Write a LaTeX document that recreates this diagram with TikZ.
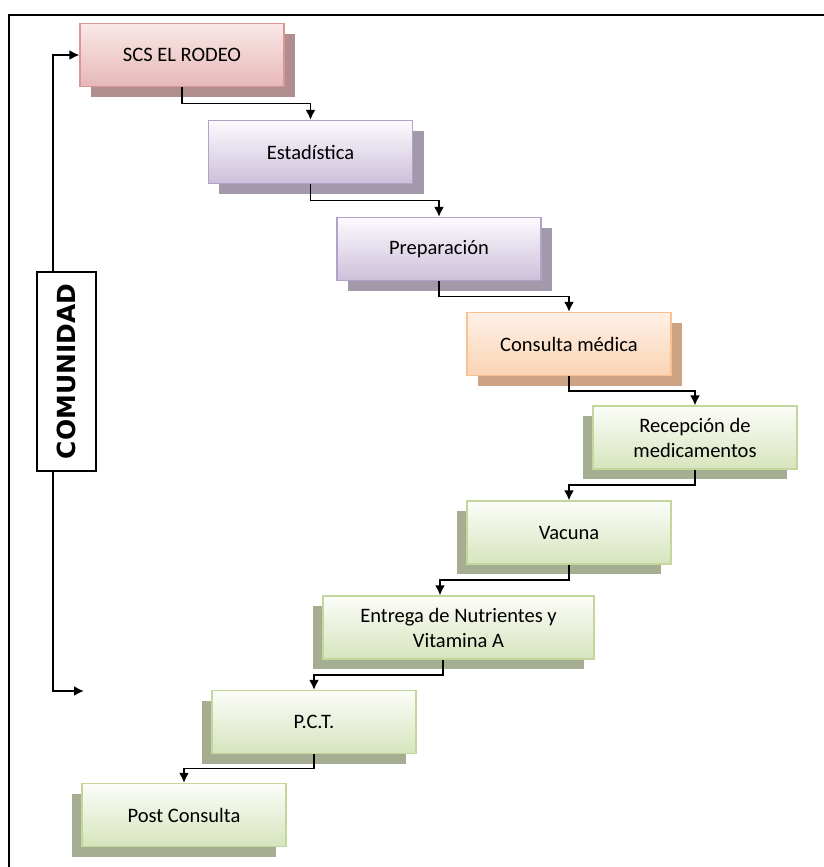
\documentclass[tikz,border=0pt]{standalone}
\usepackage{fontspec}
\setmainfont{Carlito}
\newfontfamily\comfont{DejaVu Sans}
\usetikzlibrary{arrows.meta,shadows,calc}

\definecolor{pinkline}{RGB}{217,150,148}
\definecolor{pinktop}{RGB}{250,232,232}
\definecolor{pinkbot}{RGB}{230,184,183}
\definecolor{pinkshade}{RGB}{176,142,142}
\definecolor{lilaline}{RGB}{179,162,199}
\definecolor{lilatop}{RGB}{252,250,254}
\definecolor{lilabot}{RGB}{204,192,218}
\definecolor{lilashade}{RGB}{162,154,171}
\definecolor{peachline}{RGB}{250,192,144}
\definecolor{peachtop}{RGB}{254,240,230}
\definecolor{peachbot}{RGB}{251,212,180}
\definecolor{peachshade}{RGB}{205,163,132}
\definecolor{greenline}{RGB}{195,214,155}
\definecolor{greentop}{RGB}{252,253,249}
\definecolor{greenbot}{RGB}{215,228,189}
\definecolor{greenshade}{RGB}{166,174,146}

\begin{document}
\begin{tikzpicture}[x=0.5bp, y=-0.5bp,
    every node/.style={font=\fontsize{10.3}{12.5}\selectfont},
    box/.style={draw=#1line, top color=#1top, bottom color=#1bot, line width=0.6bp,
      minimum width=102bp, minimum height=31.5bp, inner sep=0pt, align=center},
    rshadow/.style={drop shadow={shadow xshift=5.5bp, shadow yshift=-5bp, fill=#1, opacity=1}},
    lshadow/.style={drop shadow={shadow xshift=-5bp, shadow yshift=-5bp, fill=#1, opacity=1}},
    conn/.style={line width=0.95bp, >={Latex[length=5bp,width=5bp]}}]
    \useasboundingbox (0,0) rectangle (824,867);
    \draw[line width=1.1bp] (824,15) -| (9,867);

    \node[box=pink, rshadow=pinkshade] (scs) at (182,55) {SCS EL RODEO};
    \node[box=lila, rshadow=lilashade] (est) at (310.5,152) {Estadística};
    \node[box=lila, rshadow=lilashade] (prep) at (439,249) {Preparación};
    \node[box=peach, rshadow=peachshade] (cons) at (569,344) {Consulta médica};
    \node[box=green, lshadow=greenshade] (rec) at (695,437.5) {Recepción de\\medicamentos};
    \node[box=green, lshadow=greenshade] (vac) at (569,532.5) {Vacuna};
    \node[box=green, lshadow=greenshade, minimum width=135.5bp] (ent) at (458.5,627.5) {Entrega de Nutrientes y\\Vitamina A};
    \node[box=green, lshadow=greenshade] (pct) at (314,722) {P.C.T.};
    \node[box=green, lshadow=greenshade] (post) at (184,815) {Post Consulta};
    \coordinate (entin) at ([xshift=-9.25bp]ent.north);
    \coordinate (entout) at ([xshift=-7.75bp]ent.south);

    \draw[conn, ->] (scs.south) |- ($(scs.south)!.5!(est.north)$) -| (est.north);
    \draw[conn, ->] (est.south) |- ($(est.south)!.5!(prep.north)$) -| (prep.north);
    \draw[conn, ->] (prep.south) |- ($(prep.south)!.5!(cons.north)$) -| (cons.north);
    \draw[conn, ->] (cons.south) |- ($(cons.south)!.5!(rec.north)$) -| (rec.north);
    \draw[conn, ->] (rec.south) |- ($(rec.south)!.5!(vac.north)$) -| (vac.north);
    \draw[conn, ->] (vac.south) |- ($(vac.south)!.5!(entin)$) -| (entin);
    \draw[conn, ->] (entout) |- ($(entout)!.5!(pct.north)$) -| (pct.north);
    \draw[conn, ->] (pct.south) |- ($(pct.south)!.5!(post.north)$) -| (post.north);

    \coordinate (loopend) at (84,691);
    \draw[conn, <->] (scs.west) -| ([xshift=-15.5bp]loopend) -- (loopend);
    \node[draw, fill=white, line width=0.6bp, rotate=90, minimum width=99.5bp, minimum height=29.5bp,
      font=\comfont\bfseries\fontsize{12.5}{14}\selectfont] (com) at (66.5,371.5) {COMUNIDAD};
\end{tikzpicture}
\end{document}
